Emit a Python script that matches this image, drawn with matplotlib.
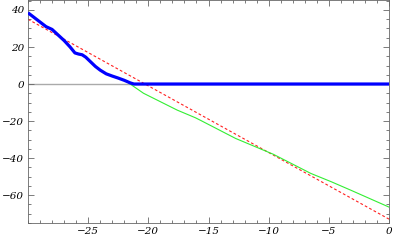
import matplotlib
matplotlib.use('Agg')
import matplotlib.pyplot as plt
from matplotlib.ticker import MultipleLocator

# blue curve (goes flat at zero)
blue_x = [-30, -29.5, -29, -28.5, -28, -27.5, -27, -26.5, -26.1, -25.8, -25.5,
          -25.2, -24.8, -24.4, -24, -23.5, -23, -22.5, -22, -21.5, -21.2, 0]
blue_y = [38.5, 36, 33.5, 31, 29.5, 26.5, 23.5, 20, 16.8, 16.2, 15.8,
          14.5, 12, 9.5, 7.5, 5.5, 4.3, 3.2, 2, 0.6, 0, 0]

# green curve
green_x = [-21.6, -20.4, -17.6, -16.1, -15.7, -12.75, -9.6, -6.5, -4.8, -3.2, 0]
green_y = [0.4, -5, -14.1, -18.2, -19.5, -29.4, -38, -48.3, -52.8, -57.3, -66.5]

# red dashed reference line
red_x = [-30, 0]
red_y = [35, -73]

x_ticks = [-25, -20, -15, -10, -5, 0]
y_ticks = [-60, -40, -20, 0, 20, 40]

fig = plt.figure(figsize=(3.95, 2.44), dpi=100)
ax = fig.add_axes([28/395, 21/244, 361/395, 223/244])

ax.axhline(0, color='#aaaaaa', linewidth=1.0, zorder=1)
ax.plot(red_x, red_y, color='#ff2020', linewidth=0.8, dashes=(2.5, 2), zorder=2)
ax.plot(green_x, green_y, color='#33ee33', linewidth=0.8, zorder=3)
ax.plot(blue_x, blue_y, color='#0000ff', linewidth=2.3, zorder=4,
        solid_capstyle='butt')

ax.set_xlim(-30, 0)
ax.set_ylim(-75.1, 45.4)
ax.xaxis.set_minor_locator(MultipleLocator(1))
ax.yaxis.set_minor_locator(MultipleLocator(5))

lab = lambda v: ('\u2212' + str(-v)) if v < 0 else str(v)
ax.set_xticks(x_ticks)
ax.set_xticklabels([lab(v) for v in x_ticks], family='DejaVu Serif',
                   style='italic', fontsize=7.5)
ax.set_yticks(y_ticks)
ax.set_yticklabels([lab(v) for v in y_ticks], family='DejaVu Serif',
                   style='italic', fontsize=7.5)

ax.tick_params(which='both', direction='in', top=True, right=True,
               color='#666666', width=0.6)
ax.tick_params(which='major', length=4.5, pad=3)
ax.tick_params(which='minor', length=2.5)
for s in ax.spines.values():
    s.set_color('#666666')
    s.set_linewidth(0.6)

plt.savefig('out.png', dpi=100)
